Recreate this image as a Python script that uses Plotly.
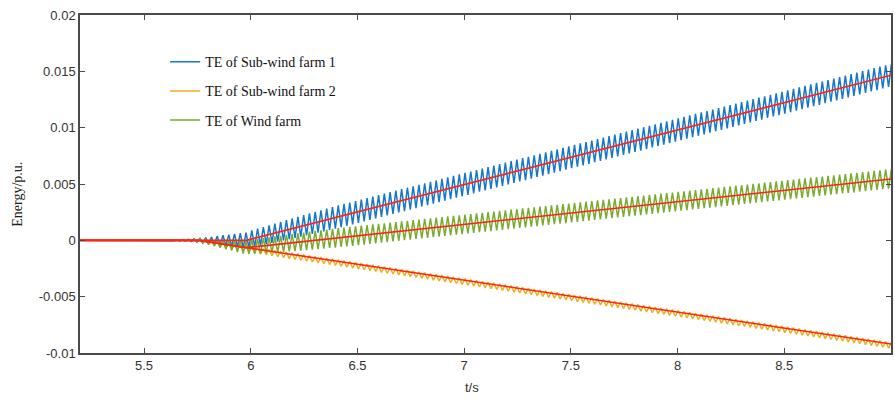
import numpy as np
import plotly.graph_objects as go

# ---- time base (sampling grid of the recorded traces) ----
T_PRE = 5.2          # start of the plotted window (flat, pre-disturbance)
T_START = 5.6        # first sample of the oscillating record
HALF_PERIOD = 0.0135 # spacing between successive peak / trough samples (s)
UNIT = 1e-5          # values below are in 1e-5 p.u.

# ---- series values (peaks / troughs, 1e-5 p.u.) ----
blue_te = [
    0,
    0, -1, 2, -3, 4, -5, 6, -8, 9, -11,
    13, -15, 18, -21, 24, -27, 30, -33, 37, -41,
    45, -48, 51, -54, 57, -60, 63, -66, 69, -65,
    88, -56, 103, -45, 118, -34, 133, -23, 149, -12,
    164, -1, 179, 10, 194, 21, 209, 32, 224, 44,
    239, 56, 253, 68, 267, 80, 281, 92, 296, 104,
    310, 116, 323, 129, 336, 142, 349, 155, 362, 169,
    375, 182, 388, 195, 401, 208, 414, 221, 428, 234,
    441, 247, 454, 260, 467, 273, 480, 286, 493, 300,
    506, 313, 519, 326, 532, 339, 545, 352, 559, 365,
    572, 378, 585, 391, 598, 404, 611, 417, 624, 431,
    637, 444, 650, 457, 663, 470, 676, 483, 690, 496,
    703, 509, 716, 522, 729, 535, 742, 548, 755, 562,
    768, 575, 781, 588, 794, 601, 807, 614, 821, 627,
    834, 640, 847, 653, 860, 666, 873, 679, 886, 693,
    899, 706, 912, 719, 925, 732, 938, 745, 952, 758,
    965, 771, 978, 784, 991, 797, 1004, 810, 1017, 824,
    1030, 837, 1043, 850, 1056, 863, 1069, 876, 1083, 889,
    1096, 902, 1109, 915, 1122, 928, 1135, 941, 1148, 955,
    1161, 968, 1174, 981, 1187, 994, 1200, 1007, 1214, 1020,
    1227, 1033, 1240, 1046, 1253, 1059, 1266, 1072, 1279, 1086,
    1292, 1099, 1305, 1112, 1318, 1125, 1331, 1138, 1345, 1151,
    1358, 1164, 1371, 1177, 1384, 1190, 1397, 1203, 1410, 1217,
    1423, 1230, 1436, 1243, 1449, 1256, 1462, 1269, 1476, 1282,
    1489, 1295, 1502, 1308, 1515, 1321, 1528, 1334, 1541, 1348,
    1554, 1361, 1567,
]

yellow_te = [
    0,
    0, -1, 1, -2, 2, -3, 3, -4, 4, -5,
    5, -8, 3, -19, -4, -31, -11, -43, -17, -54,
    -24, -66, -32, -75, -38, -84, -46, -93, -53, -101,
    -60, -110, -67, -120, -74, -128, -81, -137, -89, -146,
    -95, -154, -103, -162, -111, -170, -118, -177, -126, -185,
    -134, -192, -141, -200, -149, -208, -157, -215, -164, -223,
    -172, -231, -179, -238, -187, -246, -195, -254, -202, -261,
    -210, -269, -218, -276, -225, -284, -233, -292, -241, -299,
    -248, -307, -256, -315, -263, -322, -271, -330, -279, -338,
    -286, -345, -294, -353, -302, -361, -309, -368, -317, -376,
    -325, -383, -332, -391, -340, -399, -348, -406, -355, -414,
    -363, -422, -370, -429, -378, -437, -386, -445, -393, -452,
    -401, -460, -409, -467, -416, -475, -424, -483, -432, -490,
    -439, -498, -447, -506, -454, -513, -462, -521, -470, -529,
    -477, -536, -485, -544, -493, -552, -500, -559, -508, -567,
    -516, -574, -523, -582, -531, -590, -539, -597, -546, -605,
    -554, -613, -561, -620, -569, -628, -577, -636, -584, -643,
    -592, -651, -600, -658, -607, -666, -615, -674, -623, -681,
    -630, -689, -638, -697, -645, -704, -653, -712, -661, -720,
    -668, -727, -676, -735, -684, -743, -691, -750, -699, -758,
    -707, -765, -714, -773, -722, -781, -730, -788, -737, -796,
    -745, -804, -752, -811, -760, -819, -768, -827, -775, -834,
    -783, -842, -791, -849, -798, -857, -806, -865, -814, -872,
    -821, -880, -829, -888, -836, -895, -844, -903, -852, -911,
    -859, -918, -867, -926, -875, -934, -882, -941, -890, -949,
    -898, -956, -905,
]

green_te = [
    0,
    0, -1, 2, -3, 3, -4, 5, -7, 8, -9,
    11, -13, 12, -25, 9, -38, 7, -51, 5, -65,
    4, -79, 1, -91, -1, -104, -3, -117, -6, -123,
    5, -121, 11, -117, 19, -113, 26, -110, 34, -106,
    40, -102, 48, -99, 55, -95, 62, -91, 69, -87,
    77, -83, 83, -78, 88, -73, 95, -68, 101, -64,
    108, -59, 113, -54, 119, -49, 124, -43, 130, -38,
    135, -32, 141, -27, 146, -21, 151, -16, 157, -10,
    162, -5, 168, 1, 173, 6, 179, 12, 184, 17,
    190, 22, 195, 28, 201, 33, 206, 39, 212, 44,
    217, 50, 222, 55, 228, 61, 233, 66, 239, 72,
    244, 77, 250, 82, 255, 88, 261, 93, 266, 99,
    272, 104, 277, 110, 283, 115, 288, 121, 293, 126,
    299, 132, 304, 137, 310, 143, 315, 148, 321, 153,
    326, 159, 332, 164, 337, 170, 343, 175, 348, 181,
    354, 186, 359, 192, 364, 197, 370, 203, 375, 208,
    381, 214, 386, 219, 392, 224, 397, 230, 403, 235,
    408, 241, 414, 246, 419, 252, 424, 257, 430, 263,
    435, 268, 441, 274, 446, 279, 452, 285, 457, 290,
    463, 295, 468, 301, 474, 306, 479, 312, 485, 317,
    490, 323, 495, 328, 501, 334, 506, 339, 512, 345,
    517, 350, 523, 355, 528, 361, 534, 366, 539, 372,
    545, 377, 550, 383, 556, 388, 561, 394, 566, 399,
    572, 405, 577, 410, 583, 416, 588, 421, 594, 426,
    599, 432, 605, 437, 610, 443, 616, 448, 621, 454,
    627, 459, 632,
]

# ---- red fitted trend lines (breakpoints, 1e-5 p.u.) ----
trend_blue_t = [5.2, 5.98, 9.0]
trend_blue_v = [0, 0, 1465]
trend_yellow_t = [5.2, 5.75, 9.0]
trend_yellow_v = [0, 0, -920]
trend_green_t = [5.2, 5.75, 5.98, 9.0]
trend_green_v = [0, 0, -65, 545]

series_names = ["TE of Sub-wind farm 1", "TE of Sub-wind farm 2", "TE of Wind farm"]
series_colors = ["#1677c9", "#edb120", "#77ac30"]
trend_color = "#ff2414"

x_tick_vals = [5.5, 6, 6.5, 7, 7.5, 8, 8.5]
x_tick_text = ["5.5", "6", "6.5", "7", "7.5", "8", "8.5"]
y_tick_vals = [-0.01, -0.005, 0, 0.005, 0.01, 0.015, 0.02]
y_tick_text = ["-0.01", "-0.005", "0", "0.005", "0.01", "0.015", "0.02"]


def time_axis(values):
    n = len(values) - 1
    return np.concatenate([[T_PRE], T_START + HALF_PERIOD * np.arange(n)])


fig = go.Figure()
for name, vals, col in zip(series_names, [blue_te, yellow_te, green_te], series_colors):
    fig.add_trace(go.Scatter(
        x=time_axis(vals), y=np.array(vals) * UNIT, mode="lines", name=name,
        legendgroup=name, line=dict(color=col, width=1.5)))

for tt, vv in [(trend_blue_t, trend_blue_v), (trend_yellow_t, trend_yellow_v),
               (trend_green_t, trend_green_v)]:
    fig.add_trace(go.Scatter(
        x=tt, y=np.array(vv) * UNIT, mode="lines", showlegend=False,
        line=dict(color=trend_color, width=1.6)))

axis_common = dict(
    showline=True, linecolor="#4a4a4a", linewidth=1.5, mirror="ticks",
    ticks="inside", ticklen=5, tickwidth=1.2, tickcolor="#4a4a4a",
    showgrid=False, zeroline=False,
    tickfont=dict(family="Liberation Sans, Arial, sans-serif", size=13, color="#333333"),
)

fig.update_xaxes(range=[5.2, 9.0], tickvals=x_tick_vals, ticktext=x_tick_text, **axis_common)
fig.update_yaxes(range=[-0.01, 0.02], tickvals=y_tick_vals, ticktext=y_tick_text, **axis_common)

fig.add_annotation(text="t/s", xref="paper", yref="paper", x=0.483, y=-0.075,
                   xanchor="center", yanchor="top", showarrow=False,
                   font=dict(family="Liberation Sans, Arial, sans-serif", size=13, color="#333333"))
fig.add_annotation(text="Energy/p.u.", xref="paper", yref="paper", x=-0.077, y=0.47,
                   xanchor="center", yanchor="middle", textangle=-90, showarrow=False,
                   font=dict(family="Liberation Serif, Times New Roman, serif", size=14, color="#222222"))

fig.update_layout(
    width=895, height=399,
    margin=dict(l=80, r=2, t=15, b=46),
    plot_bgcolor="white", paper_bgcolor="white",
    showlegend=True,
    legend=dict(x=0.105, y=0.908, xanchor="left", yanchor="top",
                bgcolor="rgba(0,0,0,0)", tracegroupgap=8,
                font=dict(family="Liberation Serif, Times New Roman, serif", size=14, color="#111111")),
)

fig.write_html("out.html", config={"displayModeBar": False},
               post_script="document.body.style.margin='0px';document.body.style.overflow='hidden';")
